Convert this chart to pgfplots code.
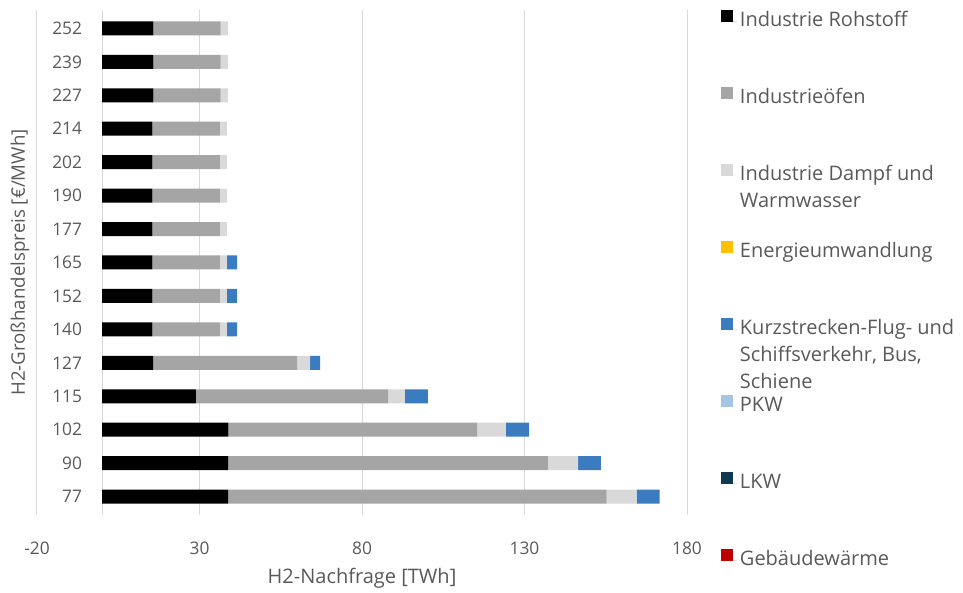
\documentclass[border=0pt]{standalone}
\usepackage{fontspec}
\setmainfont{Open Sans}
\usepackage{pgfplots}
\usepackage{pgfplotstable}
\pgfplotsset{compat=1.18}

\definecolor{txt}{HTML}{595959}
\definecolor{gridc}{HTML}{D9D9D9}
\definecolor{cRoh}{HTML}{000000}
\definecolor{cOfen}{HTML}{A5A5A5}
\definecolor{cDampf}{HTML}{D9D9D9}
\definecolor{cEnergie}{HTML}{FFC000}
\definecolor{cKurz}{HTML}{3B7BC0}
\definecolor{cPKW}{HTML}{A7C4E0}
\definecolor{cLKW}{HTML}{0E3A4F}
\definecolor{cGeb}{HTML}{C00000}

% H2 demand in TWh per sector, one row per wholesale price (EUR/MWh)
\pgfplotstableread{
idx preis roh ofen dampf energie kurz pkw lkw geb
0  77  38.8 116.5 9.2 0 7.1 0 0 0
1  90  38.8  98.4 9.3 0 7.0 0 0 0
2  102 38.9  76.5 8.9 0 7.1 0 0 0
3  115 28.9  59.1 5.2 0 7.1 0 0 0
4  127 15.7  44.3 4.0 0 3.1 0 0 0
5  140 15.5  20.8 2.1 0 3.2 0 0 0
6  152 15.5  20.8 2.1 0 3.2 0 0 0
7  165 15.5  20.8 2.1 0 3.2 0 0 0
8  177 15.5  20.8 2.1 0 0   0 0 0
9  190 15.5  20.8 2.1 0 0   0 0 0
10 202 15.5  20.8 2.1 0 0   0 0 0
11 214 15.5  20.8 2.1 0 0   0 0 0
12 227 15.8  20.7 2.2 0 0   0 0 0
13 239 15.8  20.7 2.2 0 0   0 0 0
14 252 15.8  20.7 2.2 0 0   0 0 0
}\nachfrage

\begin{document}
\begin{tikzpicture}
\begin{axis}[
    xbar stacked,
    bar width=10.5pt,
    scale only axis,
    width=487.5pt, height=378.75pt,
    xmin=-20, xmax=180,
    ymin=0, ymax=14,
    enlarge y limits={abs=0.55},
    xtick={-20,30,80,130,180},
    ytick={0,...,14},
    yticklabels={77,90,102,115,127,140,152,165,177,190,202,214,227,239,252},
    major tick length=0pt,
    axis line style={draw=none},
    xmajorgrids,
    grid style={draw=gridc, line width=0.75pt},
    extra x ticks={0},
    extra x tick labels={},
    extra x tick style={grid=major},
    font=\fontsize{13}{16}\selectfont,
    /pgf/number format/assume math mode=true,
    tick label style={text=txt},
    xticklabel style={anchor=center, yshift=-24.75pt},
    yticklabel style={anchor=east, inner sep=0pt, xshift=34pt},
    xlabel={H2-Nachfrage [TWh]},
    ylabel={H2-Großhandelspreis [€/MWh]},
    label style={text=txt},
    xlabel style={at={(axis description cs:0.5,-0.1248)}, anchor=center,
        font=\fontsize{15}{18}\selectfont},
    ylabel style={at={(axis description cs:-0.026,0.5)}, anchor=center,
        font=\fontsize{14}{17}\selectfont},
    legend cell align=left,
    legend image code/.code={\fill[#1] (0pt,0pt) rectangle (8.5pt,8.5pt);
        \path (0pt,0pt) -- (12pt,0pt);},
    legend style={at={(axis description cs:1.0523,1.0)}, anchor=north west,
        draw=none, fill=none, inner sep=0pt, row sep=40.75pt,
        font=\fontsize{15}{20.5}\selectfont, text=txt,
        nodes={text height=10pt, text depth=3pt, inner sep=2pt}},
]
\addplot[fill=cRoh, draw=none] table[x=roh, y=idx] {\nachfrage};
\addplot[fill=cOfen, draw=none] table[x=ofen, y=idx] {\nachfrage};
\addplot[fill=cDampf, draw=none] table[x=dampf, y=idx] {\nachfrage};
\addplot[fill=cEnergie, draw=none] table[x=energie, y=idx] {\nachfrage};
\addplot[fill=cKurz, draw=none] table[x=kurz, y=idx] {\nachfrage};
\addplot[fill=cPKW, draw=none] table[x=pkw, y=idx] {\nachfrage};
\addplot[fill=cLKW, draw=none] table[x=lkw, y=idx] {\nachfrage};
\addplot[fill=cGeb, draw=none] table[x=geb, y=idx] {\nachfrage};
\legend{Industrie Rohstoff, Industrieöfen,
    {\raisebox{0pt}[\height][0pt]{\begin{tabular}[t]{@{}l@{}}Industrie Dampf und\\Warmwasser\end{tabular}}},
    Energieumwandlung,
    {\raisebox{0pt}[\height][0pt]{\begin{tabular}[t]{@{}l@{}}Kurzstrecken-Flug- und\\Schiffsverkehr, Bus,\\Schiene\end{tabular}}},
    PKW, LKW, Gebäudewärme}
\end{axis}
\path (-27.75pt,-56.25pt) rectangle (694.5pt,386.25pt);
\end{tikzpicture}
\end{document}
